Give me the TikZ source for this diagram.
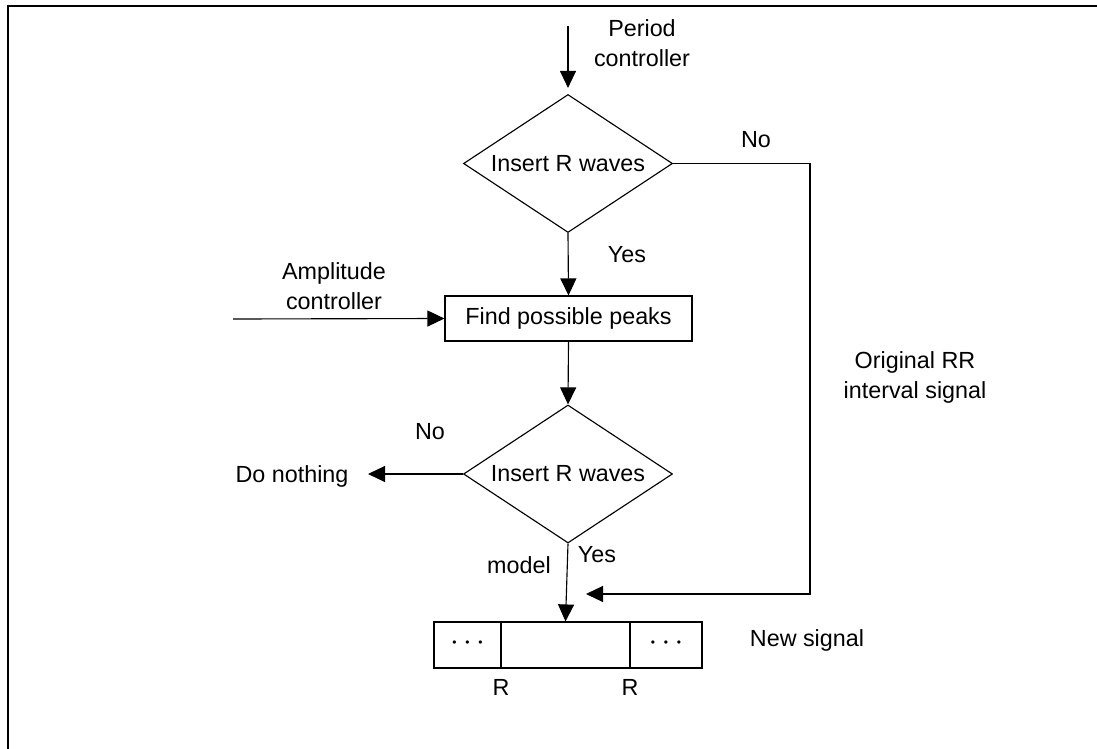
\documentclass[tikz,border=0pt]{standalone}
\usepackage{fontspec}
\setmainfont{Liberation Sans}
\usetikzlibrary{shapes.geometric,arrows.meta}

\newcommand{\celldots}{{\fontsize{9}{9}\selectfont •\hspace{6.6pt}•\hspace{6.6pt}•}}

\begin{document}
\begin{tikzpicture}[x=0.75pt,y=-0.75pt,
  line width=0.85pt,
  every node/.style={font=\fontsize{17.5}{22.5}\selectfont, inner sep=0pt},
  arr/.style={-{Triangle[length=12.75pt,width=12pt]}},
  decision/.style={draw, diamond, aspect=1.52, minimum width=156.75pt, minimum height=103.5pt},
  procbox/.style={draw, rectangle, minimum width=185.25pt, minimum height=33.75pt},
  cell/.style={draw, rectangle, minimum height=34.5pt},
  lbl/.style={align=center}]
\useasboundingbox (0,0) rectangle (1097,749);

% frame
\draw[line width=1.5pt] (8,749) -- (8,6.5) -- (1097,6.5);

% first decision with its input
\node[lbl] (period) at (642,43) {Period\\controller};
\coordinate (pstart) at (568,26);
\node[decision] (d1) at (568,163.5) {Insert R waves};
\draw[arr, shorten >=4.5pt] (pstart) -- (d1.north);

% peak search
\node[procbox] (peaks) at (568.5,318.5) {Find possible peaks};
\draw[arr] (d1.south) -- (peaks.north);
\node[lbl] (amp) at (334,286) {Amplitude\\controller};
\coordinate (astart) at (233,319);
\draw[arr] (astart) -- (peaks.west);

% second decision
\node[decision] (d2) at (568,474) {Insert R waves};
\draw[arr] (peaks.south) -- (d2.north);
\node (nothing) at (292,476) {Do nothing};
\coordinate (ntip) at (368,474);
\draw[arr] (d2.west) -- (ntip);

% output signal
\node[cell, minimum width=50.25pt] (cl) at (467.5,645) {};
\node[cell, minimum width=96.75pt] (cm) at (565.5,645) {};
\node[cell, minimum width=54pt] (cr) at (666,645) {};
\node[anchor=base] (dl) at (467.5,646) {\celldots};
\node[anchor=base] (dr) at (666,646) {\celldots};
\draw[arr] (d2.south) -- (cm.north);

% bypass branch
\coordinate (c1) at (810,163.5);
\coordinate (c2) at (810,594);
\coordinate (btip) at (586,594);
\draw[arr] (d1.east) -- (c1) -- (c2) -- (btip);

% labels
\node (no1) at (756,140) {No};
\node (yes1) at (627,255) {Yes};
\node (no2) at (430,432) {No};
\node (model) at (519,565) {model};
\node (yes2) at (597,555) {Yes};
\node[lbl] (orig) at (915,377) {Original RR\\interval signal};
\node (newsig) at (807,640) {New signal};
\node (r1) at (501,687) {R};
\node (r2) at (630,687) {R};
\end{tikzpicture}
\end{document}
